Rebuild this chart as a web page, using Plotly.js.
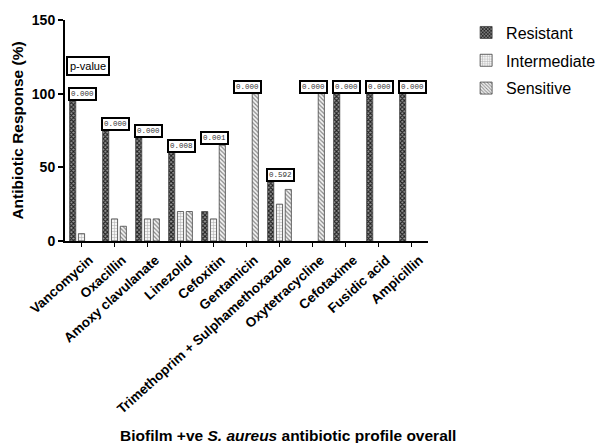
<!DOCTYPE html>
<html><head><meta charset="utf-8">
<script src="https://cdn.plot.ly/plotly-3.0.1.min.js"></script>
<style>html,body{margin:0;padding:0;background:#fff}#chart{width:598px;height:443px}</style>
</head><body><div id="chart"></div>
<script>
const categories = ["Vancomycin","Oxacillin","Amoxy clavulanate","Linezolid","Cefoxitin","Gentamicin","Trimethoprim + Sulphamethoxazole","Oxytetracycline","Cefotaxime","Fusidic acid","Ampicillin"];
const resistant    = [95, 75, 70, 60, 20, 0, 40, 0, 100, 100, 100];
const intermediate = [5, 15, 15, 20, 15, 0, 25, 0, 0, 0, 0];
const sensitive    = [0, 10, 15, 20, 65, 100, 35, 100, 0, 0, 0];
const pValues = ["0.000","0.000","0.000","0.008","0.001","0.000","0.592","0.000","0.000","0.000","0.000"];
const yTicks = [0, 50, 100, 150];

const idx = categories.map((c,i)=>i);
function tr(name, y, pattern){
  return {type:'bar', name:name, x:idx, y:y.map(v=>v===0?null:v), legendgroup:name,
    marker:{color:'#fff', pattern:pattern, line:{color:'#444', width:0.8}}};
}
const data = [
  tr('Resistant', resistant, {shape:'x', size:3, solidity:0.6, fgcolor:'#222', bgcolor:'#999', fillmode:'replace'}),
  tr('Intermediate', intermediate, {shape:'+', size:3, solidity:0.3, fgcolor:'#aaa', bgcolor:'#f4f4f4', fillmode:'replace'}),
  tr('Sensitive', sensitive, {shape:'\\', size:3, solidity:0.4, fgcolor:'#888', bgcolor:'#f4f4f4', fillmode:'replace'})
];

const annotations = pValues.map((p,i)=>({
  xref:'x', yref:'y', x:i-0.42, y:Math.max(resistant[i],intermediate[i],sensitive[i]),
  xanchor:'left', yanchor:'bottom', text:p, showarrow:false,
  font:{family:'Liberation Mono, monospace', size:7.5, color:'#333'},
  bgcolor:'#fff', bordercolor:'#000', borderwidth:2, borderpad:1
}));
annotations.push({xref:'x', yref:'y', x:-0.47, y:119, xanchor:'left', yanchor:'middle',
  text:'p-value', showarrow:false, font:{family:'Arial, Liberation Sans', size:11, color:'#000'},
  bgcolor:'#fff', bordercolor:'#000', borderwidth:2, borderpad:2});
annotations.push({xref:'paper', yref:'paper', x:0.614, y:-0.88, xanchor:'center', yanchor:'middle',
  showarrow:false, text:'<b>Biofilm +ve <i>S. aureus</i> antibiotic profile overall</b>',
  font:{family:'Arial, Liberation Sans', size:15.5, color:'#000'}});

const layout = {
  width:598, height:443,
  margin:{l:65, r:170, t:20, b:202, autoexpand:false},
  paper_bgcolor:'#fff', plot_bgcolor:'#fff',
  barmode:'group', bargap:0.2, bargroupgap:0.3,
  showlegend:true,
  legend:{x:1.105, xanchor:'left', y:1.02, yanchor:'top', traceorder:'grouped', tracegroupgap:4,
    font:{family:'Arial, Liberation Sans', size:16, color:'#000'}},
  xaxis:{range:[-0.5,10.5], tickmode:'array', tickvals:idx, ticktext:categories, tickangle:-42,
    showline:true, linecolor:'#000', linewidth:2, ticks:'outside', ticklen:4, tickwidth:1.5, tickcolor:'#000',
    showgrid:false, zeroline:false, ticklabelshift:8,
    tickfont:{family:'Arial, Liberation Sans', size:13.5, color:'#000', weight:'bold'}},
  yaxis:{range:[0,150], tickmode:'array', tickvals:yTicks, showline:true, linecolor:'#000', linewidth:2,
    ticks:'outside', ticklen:5, tickwidth:2, tickcolor:'#000', showgrid:false, zeroline:false,
    tickfont:{family:'Arial, Liberation Sans', size:14, color:'#000', weight:'bold'},
    title:{text:'<b>Antibiotic Response (%)</b>', standoff:4, font:{family:'Arial, Liberation Sans', size:15.5, color:'#000'}}},
  annotations:annotations
};
Plotly.newPlot('chart', data, layout, {displayModeBar:false, staticPlot:true});
</script></body></html>
